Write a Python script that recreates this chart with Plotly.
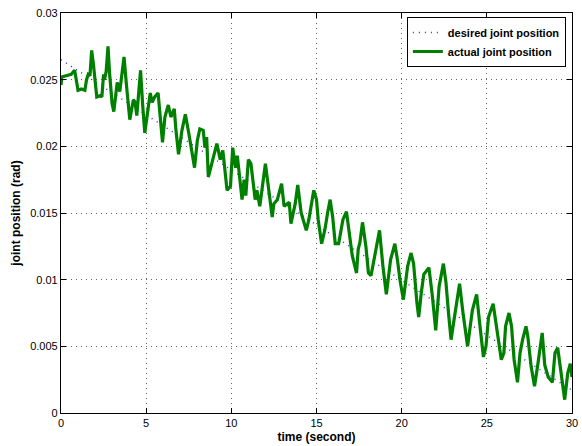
import plotly.graph_objects as go

# desired joint position (straight reference line, endpoints)
desired_t = [0.0, 30.0]
desired_pos = [0.0265, 0.0017]

# actual joint position
actual_t = [0.0, 0.05, 0.3, 0.6, 0.8, 0.9, 1.0, 1.2, 1.4, 1.5, 1.6, 1.7, 1.8, 1.9, 2.0,
            2.1, 2.3, 2.4, 2.5, 2.55, 2.65, 2.76, 2.85, 3.0, 3.1, 3.3, 3.45, 3.55, 3.7,
            3.85, 4.04, 4.25, 4.35, 4.45, 4.67, 4.8, 4.92, 5.1, 5.24, 5.35, 5.5, 5.7,
            5.82, 5.96, 6.1, 6.3, 6.45, 6.65, 6.75, 6.9, 7.1, 7.3, 7.5, 7.84, 8.0, 8.15,
            8.35, 8.45, 8.55, 8.65, 8.85, 9.15, 9.35, 9.5, 9.75, 9.95, 10.08, 10.25,
            10.35, 10.63, 10.75, 10.85, 11.0, 11.15, 11.4, 11.5, 11.67, 11.8, 12.0,
            12.15, 12.3, 12.4, 12.5, 12.7, 12.95, 13.1, 13.4, 13.5, 13.75, 13.9, 14.1,
            14.4, 14.55, 14.84, 15.0, 15.1, 15.3, 15.5, 15.65, 15.8, 15.95, 16.1, 16.3,
            16.55, 16.76, 16.9, 17.1, 17.35, 17.45, 17.55, 17.7, 17.9, 18.05, 18.2,
            18.45, 18.6, 18.7, 18.9, 19.1, 19.35, 19.6, 19.75, 19.9, 20.1, 20.2, 20.35,
            20.55, 20.7, 20.9, 21.0, 21.15, 21.3, 21.6, 21.8, 22.0, 22.2, 22.45, 22.6,
            22.75, 22.9, 23.1, 23.4, 23.6, 23.87, 24.15, 24.4, 24.6, 24.8, 24.95, 25.1,
            25.37, 25.5, 25.65, 25.85, 26.0, 26.1, 26.3, 26.45, 26.6, 26.8, 26.95, 27.1,
            27.3, 27.4, 27.6, 27.8, 28.0, 28.25, 28.4, 28.6, 28.85, 29.0, 29.16, 29.3,
            29.45, 29.57, 29.75, 29.9, 30.0]
actual_pos = [0.0246, 0.0252, 0.0253, 0.0254, 0.0257, 0.0250, 0.0242, 0.0243, 0.0242,
              0.0250, 0.0254, 0.0253, 0.0272, 0.0262, 0.0249, 0.0237, 0.0238, 0.0237,
              0.0254, 0.0250, 0.0256, 0.0275, 0.0255, 0.0232, 0.0226, 0.0248, 0.0241,
              0.0251, 0.0267, 0.0245, 0.0220, 0.0235, 0.0233, 0.0223, 0.0257, 0.0230,
              0.0210, 0.0227, 0.0240, 0.0233, 0.0237, 0.0240, 0.0220, 0.0203, 0.0222,
              0.0231, 0.0222, 0.0228, 0.0212, 0.0194, 0.0212, 0.0224, 0.0210, 0.0184,
              0.0204, 0.0213, 0.0212, 0.0199, 0.0207, 0.0177, 0.0187, 0.0202, 0.0190,
              0.0197, 0.0167, 0.0170, 0.0199, 0.0184, 0.0193, 0.0160, 0.0175, 0.0163,
              0.0190, 0.0187, 0.0160, 0.0167, 0.0155, 0.0169, 0.0187, 0.0172, 0.0155,
              0.0147, 0.0157, 0.0160, 0.0172, 0.0155, 0.0158, 0.0142, 0.0157, 0.0171,
              0.0150, 0.0137, 0.0145, 0.0167, 0.0160, 0.0145, 0.0127, 0.0138, 0.0150,
              0.0160, 0.0147, 0.0127, 0.0127, 0.0145, 0.0151, 0.0138, 0.0118, 0.0105,
              0.0123, 0.0128, 0.0143, 0.0125, 0.0105, 0.0103, 0.0120, 0.0127, 0.0137,
              0.0110, 0.0089, 0.0115, 0.0127, 0.0115, 0.0100, 0.0085, 0.0095, 0.0110,
              0.0120, 0.0112, 0.0082, 0.0072, 0.0090, 0.0104, 0.0109, 0.0088, 0.0062,
              0.0095, 0.0112, 0.0098, 0.0075, 0.0055, 0.0072, 0.0097, 0.0075, 0.0050,
              0.0077, 0.0089, 0.0065, 0.0042, 0.0050, 0.0072, 0.0082, 0.0070, 0.0055,
              0.0040, 0.0045, 0.0065, 0.0075, 0.0065, 0.0040, 0.0023, 0.0045, 0.0055,
              0.0065, 0.0058, 0.0035, 0.0020, 0.0037, 0.0060, 0.0036, 0.0027, 0.0023,
              0.0045, 0.0049, 0.0036, 0.0023, 0.0010, 0.0030, 0.0037, 0.0027]

x_ticks = [0, 5, 10, 15, 20, 25, 30]
x_tick_labels = ["0", "5", "10", "15", "20", "25", "30"]
y_ticks = [0, 0.005, 0.01, 0.015, 0.02, 0.025, 0.03]
y_tick_labels = ["0", "0.005", "0.01", "0.015", "0.02", "0.025", "0.03"]

FONT = "Liberation Sans, Arial, sans-serif"

fig = go.Figure()
fig.add_trace(go.Scatter(x=desired_t, y=desired_pos, mode="lines",
                         name="<b>desired joint position</b>",
                         line=dict(color="#2a2aff", width=1.4, dash="1px,5px")))
fig.add_trace(go.Scatter(x=actual_t, y=actual_pos, mode="lines",
                         name="<b>actual joint position</b>",
                         line=dict(color="#008000", width=3.2)))

axis_common = dict(showline=True, linecolor="black", linewidth=1.2, mirror="ticks",
                   ticks="inside", ticklen=5, tickcolor="black",
                   showgrid=True, gridcolor="#666666", griddash="1px,4px", gridwidth=1,
                   zeroline=False, automargin=False,
                   tickfont=dict(family=FONT, size=11, color="black"))

fig.update_xaxes(range=[0, 30], tickvals=x_ticks, ticktext=x_tick_labels,
                 title=dict(text="<b>time (second)</b>", standoff=4,
                            font=dict(family=FONT, size=12, color="black")),
                 **axis_common)
fig.update_yaxes(range=[0, 0.03], tickvals=y_ticks, ticktext=y_tick_labels,
                 title=dict(text="<b>joint position (rad)</b>", standoff=6,
                            font=dict(family=FONT, size=12, color="black")),
                 **axis_common)

fig.update_layout(
    width=582, height=446,
    margin=dict(l=61, r=10, t=13, b=33),
    plot_bgcolor="white", paper_bgcolor="white",
    legend=dict(x=0.988, y=0.99, xanchor="right", yanchor="top",
                bgcolor="white", bordercolor="black", borderwidth=1,
                font=dict(family=FONT, size=11, color="black"),
                tracegroupgap=0, itemwidth=30),
    showlegend=True,
)

fig.write_html("out.html", config={"displayModeBar": False},
               post_script="document.body.style.margin='0';document.body.style.padding='0';")
